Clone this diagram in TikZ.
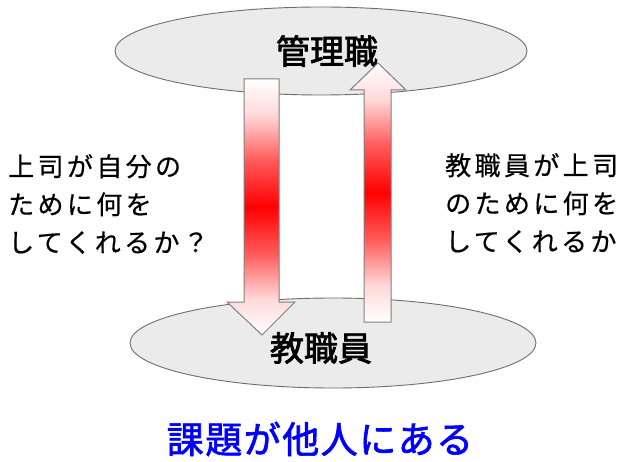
\documentclass[tikz,border=0pt]{standalone}
\usepackage{fontspec}
\usetikzlibrary{shapes.geometric}
\newfontfamily\jpm[FakeBold=2.2]{Noto Sans CJK JP}
\newfontfamily\jpsp[LetterSpace=13,FakeBold=0.5]{Noto Sans CJK JP}
\newfontfamily\jpbl[LetterSpace=4,FakeBold=1.8]{Noto Sans CJK JP}
\pgfdeclareverticalshading{redglow}{100bp}{color(0bp)=(white); color(25bp)=(white); color(32bp)=(red!15); color(41bp)=(red!65); color(50bp)=(red); color(59bp)=(red!65); color(68bp)=(red!15); color(75bp)=(white); color(100bp)=(white)}
\definecolor{ellfill}{RGB}{235,235,235}
\definecolor{ellline}{RGB}{110,110,110}
\definecolor{arrline}{RGB}{128,128,128}
\tikzset{
  plate/.style={ellipse, draw=ellline, fill=ellfill, line width=0.9bp, inner sep=0pt},
  blockarrow/.style={shading=redglow, draw=arrline, line width=1bp, line join=miter},
  title/.style={font=\jpm\fontsize{34bp}{40bp}\selectfont, inner sep=0pt},
  side/.style={font=\jpsp\fontsize{26bp}{38bp}\selectfont, align=left, anchor=west, inner sep=0pt},
}
\begin{document}
\begin{tikzpicture}[x=1bp, y=-1bp]
\useasboundingbox[fill=white] (0,0) rectangle (623,462);
% plates
\node[plate, minimum width=412bp, minimum height=88bp] (top) at (321,51) {};
\node[plate, minimum width=406bp, minimum height=90bp] (bottom) at (333,343) {};
\node[title] (mgr) at (327,51) {管理職};
\node[title] (staff) at (321,348) {教職員};
% arrows
\path[blockarrow] (244,79) -- (279,79) -- (279,302) -- (295,302) -- (262,335) -- (227,302) -- (244,302) -- cycle;
\path[blockarrow] (364,322) -- (391,322) -- (391,90) -- (406,90) -- (378,63) -- (350,90) -- (364,90) -- cycle;
% side texts
\node[side] (ltext) at (8,204) {上司が自分の\\ために何を\\してくれるか？};
\node[side] (rtext) at (445,203) {教職員が上司\\のために何を\\してくれるか};
% bottom statement
\node[font=\jpbl\fontsize{37bp}{42bp}\selectfont, text=blue, inner sep=0pt] (issue) at (320,439) {課題が他人にある};
\end{tikzpicture}
\end{document}
